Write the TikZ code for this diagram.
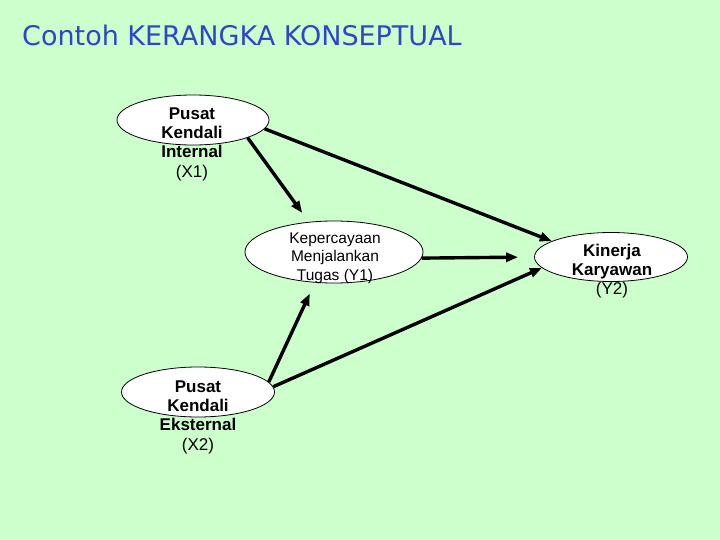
\documentclass[tikz,border=0pt]{standalone}
\usepackage{fontspec}
\setmainfont{Liberation Sans}
\newfontfamily\titlefont{DejaVu Sans}
\usetikzlibrary{shapes.geometric,arrows.meta}
\definecolor{bggreen}{RGB}{204,255,204}
\definecolor{titleblue}{RGB}{51,68,204}
\begin{document}
\begin{tikzpicture}[x=1pt,y=-1pt,
    var/.style={draw,ellipse,fill=white,line width=0.8pt,inner sep=0pt},
    txt/.style={align=center,inner sep=0pt,font=\fontsize{17}{19.3}\selectfont},
    link/.style={line width=3.4pt,-{Triangle[length=12pt,width=9pt]}}]
  \fill[bggreen] (0,0) rectangle (720,540);
  \useasboundingbox (0,0) rectangle (720,540);
  \node[anchor=base west,inner sep=0pt,text=titleblue,font=\titlefont\fontsize{27}{30}\selectfont] (title) at (22,46) {Contoh KERANGKA KONSEPTUAL};

  \node[var,minimum width=152pt,minimum height=50pt] (x1) at (193,120) {};
  \node[var,minimum width=153pt,minimum height=50pt] (x2) at (198,392) {};
  \node[var,minimum width=178pt,minimum height=62pt] (y1) at (334,252) {};
  \node[var,minimum width=153pt,minimum height=49pt] (y2) at (611,257) {};

  \node[txt] (x1text) at (192,144) {\textbf{Pusat}\\\textbf{Kendali}\\\textbf{Internal}\\(X1)};
  \node[txt] (x2text) at (198,417) {\textbf{Pusat}\\\textbf{Kendali}\\\textbf{Eksternal}\\(X2)};
  \node[txt,font=\fontsize{15.5}{18.5}\selectfont] (y1text) at (335,258) {Kepercayaan\\Menjalankan\\Tugas (Y1)};
  \node[txt] (y2text) at (612,271) {\textbf{Kinerja}\\\textbf{Karyawan}\\(Y2)};

  \draw[link] (x1.-7) -- (y2.165);
  \draw[link,shorten >=11pt] (x1.-18) -- (y1.130);
  \draw[link,shorten >=16pt] (y1.-4) -- (y2.180);
  \draw[link,shorten >=12pt] (x2.8) -- (y1.238);
  \draw[link] (x2.4) -- (y2.189);
\end{tikzpicture}
\end{document}
